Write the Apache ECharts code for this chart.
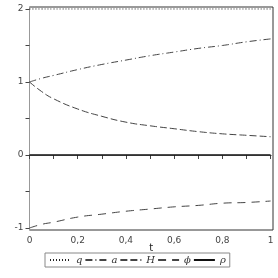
<!DOCTYPE html>
<html><head><meta charset="utf-8">
<script src="https://cdn.jsdelivr.net/npm/echarts@6/dist/echarts.min.js"></script>
<style>html,body{margin:0;padding:0;background:#fff}#c{width:278px;height:278px}</style>
</head><body><div id="c"></div>
<script>
var tVals   = [0, 0.05, 0.1, 0.2, 0.3, 0.4, 0.5, 0.6, 0.7, 0.8, 0.9, 1.0];
var qVals   = [2, 2, 2, 2, 2, 2, 2, 2, 2, 2, 2, 2];
var aVals   = [1.00, 1.05, 1.09, 1.17, 1.24, 1.30, 1.36, 1.41, 1.46, 1.50, 1.55, 1.59];
var HVals   = [1.00, 0.87, 0.77, 0.63, 0.53, 0.45, 0.40, 0.36, 0.32, 0.29, 0.27, 0.25];
var phiVals = [-1.00, -0.95, -0.92, -0.85, -0.81, -0.77, -0.74, -0.71, -0.69, -0.66, -0.65, -0.63];
var rhoVals = [0, 0, 0, 0, 0, 0, 0, 0, 0, 0, 0, 0];
var xTicks = [0, 0.1, 0.2, 0.3, 0.4, 0.5, 0.6, 0.7, 0.8, 0.9, 1];
var xLabels = [0, 0.2, 0.4, 0.6, 0.8, 1];
var yTicks = [-1, -0.5, 0, 0.5, 1, 1.5, 2];
var yLabels = [-1, 0, 1, 2];

function zip(ys){ return tVals.map(function(t,i){ return [t, ys[i]]; }); }
var chart = echarts.init(document.getElementById('c'), null, {renderer:'canvas'});
function ser(name, ys, color, type, width){
  return {name:name, type:'line', data:zip(ys), smooth: true, symbol:'none', silent:true,
    lineStyle:{color:color, width:width, type:type}, itemStyle:{color:color}};
}
chart.setOption({
  animation:false,
  grid:{left:29.5, right:5, top:7, bottom:48, show:true, borderColor:'#333', borderWidth:1},
  xAxis:{type:'value', min:0, max:1.01, name:'t', nameLocation:'middle', nameGap:13, nameMoveOverlap:false,
    nameTextStyle:{color:'#222', fontFamily:'DejaVu Sans', fontSize:10, verticalAlign:'top'},
    axisLine:{show:true, lineStyle:{color:'#999'}},
    axisTick:{show:true, length:4, customValues:xTicks, lineStyle:{color:'#444'}},
    axisLabel:{customValues:xLabels, color:'#444', fontSize:9, fontFamily:'DejaVu Sans', margin:6,
      formatter:function(v){ return String(v).replace('.', ','); }},
    splitLine:{show:false}},
  yAxis:{type:'value', min:-1.027, max:2.027,
    axisLine:{show:true, lineStyle:{color:'#999'}},
    axisTick:{show:true, length:4, customValues:yTicks, lineStyle:{color:'#444'}},
    axisLabel:{customValues:yLabels, color:'#444', fontSize:9, fontFamily:'DejaVu Sans', margin:6},
    splitLine:{show:false}},
  legend:{left:45, top:253, orient:'horizontal', itemWidth:21, itemHeight:8, itemGap:2,
    padding:[2,4], borderColor:'#888', borderWidth:1,
    itemStyle:{opacity:0},
    textStyle:{color:'#333', fontFamily:'DejaVu Serif', fontStyle:'italic', fontSize:10},
    data:['q','a','H','\u03d5','\u03c1']},
  series:[
    ser('q', qVals, '#222', [1,2], 1),
    ser('a', aVals, '#444', [7,3,1,3], 1),
    ser('H', HVals, '#444', [7,3], 1),
    ser('\u03d5', phiVals, '#444', [8,6], 1),
    ser('\u03c1', rhoVals, '#111', 'solid', 1.5)
  ]
});
</script></body></html>
